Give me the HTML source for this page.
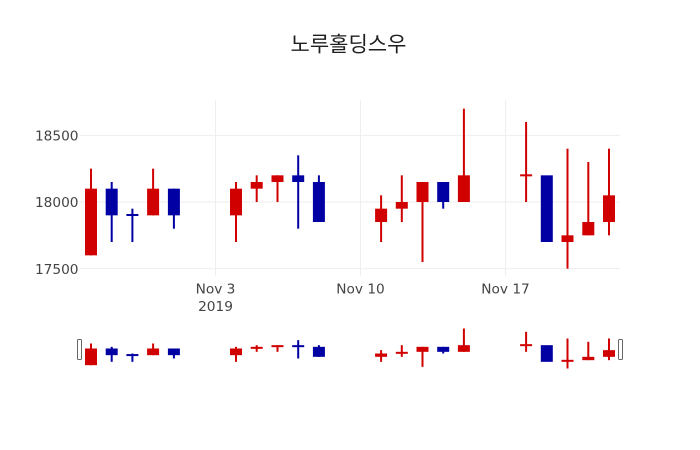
<!DOCTYPE html>
<html><head><meta charset="utf-8"><style>
html,body{margin:0;padding:0;background:#fff;}
svg{display:block;}
text{font-family:"DejaVu Sans","Liberation Sans",sans-serif;fill:#444;}
</style></head><body>
<svg width="700" height="450" viewBox="0 0 700 450" xmlns="http://www.w3.org/2000/svg">
<rect x="0" y="0" width="700" height="450" fill="#fff"/>
<!-- gridlines -->
<g stroke="#eeeeee" stroke-width="1">
<line x1="80" y1="135.33" x2="620" y2="135.33"/>
<line x1="80" y1="202" x2="620" y2="202"/>
<line x1="80" y1="268.67" x2="620" y2="268.67"/>
<line x1="215.5" y1="100" x2="215.5" y2="276"/>
<line x1="360.5" y1="100" x2="360.5" y2="276"/>
<line x1="505.5" y1="100" x2="505.5" y2="276"/>
</g>
<!-- title -->
<text x="348.5" y="51.3" text-anchor="middle" style="font-family:'Liberation Sans','Noto Sans CJK KR',sans-serif;font-size:21px;fill:#1e1e1e;">노루홀딩스우</text>
<!-- y tick labels -->
<g font-size="13.7" text-anchor="end">
<text x="78.5" y="140.5">18500</text>
<text x="78.5" y="207.2">18000</text>
<text x="78.5" y="273.9">17500</text>
</g>
<!-- x tick labels -->
<g font-size="13.7" text-anchor="middle">
<text x="215.5" y="293.3">Nov 3</text>
<text x="215.5" y="311">2019</text>
<text x="360.5" y="293.3">Nov 10</text>
<text x="505.5" y="293.3">Nov 17</text>
</g>
<!-- main candles -->
<g>
<g fill="#d10000">
<rect x="90" y="168.67" width="2" height="86.67"/><rect x="85" y="188.67" width="12" height="66.67"/>
<rect x="152.1" y="168.67" width="2" height="46.67"/><rect x="147.1" y="188.67" width="12" height="26.67"/>
<rect x="235" y="182" width="2" height="60"/><rect x="230" y="188.67" width="12" height="26.67"/>
<rect x="255.7" y="175.33" width="2" height="26.67"/><rect x="250.7" y="182" width="12" height="6.67"/>
<rect x="276.5" y="175.33" width="2" height="26.67"/><rect x="271.5" y="175.33" width="12" height="6.67"/>
<rect x="380.1" y="195.33" width="2" height="46.67"/><rect x="375.1" y="208.67" width="12" height="13.33"/>
<rect x="400.8" y="175.33" width="2" height="46.67"/><rect x="395.8" y="202" width="12" height="6.67"/>
<rect x="421.5" y="182" width="2" height="80"/><rect x="416.5" y="182" width="12" height="20"/>
<rect x="462.9" y="108.67" width="2" height="93.33"/><rect x="457.9" y="175.33" width="12" height="26.67"/>
<rect x="525.1" y="122" width="2" height="80"/><rect x="520.1" y="174.33" width="12" height="2"/>
<rect x="566.5" y="148.67" width="2" height="120"/><rect x="561.5" y="235.33" width="12" height="6.67"/>
<rect x="587.3" y="162" width="2" height="73.33"/><rect x="582.3" y="222" width="12" height="13.33"/>
<rect x="608" y="148.67" width="2" height="86.67"/><rect x="603" y="195.33" width="12" height="26.67"/>
</g>
<g fill="#0000a3">
<rect x="110.7" y="182" width="2" height="60"/><rect x="105.7" y="188.67" width="12" height="26.67"/>
<rect x="131.4" y="208.67" width="2" height="33.33"/><rect x="126.4" y="214" width="12" height="2"/>
<rect x="172.9" y="188.67" width="2" height="40"/><rect x="167.9" y="188.67" width="12" height="26.67"/>
<rect x="297.2" y="155.33" width="2" height="73.33"/><rect x="292.2" y="175.33" width="12" height="6.67"/>
<rect x="317.9" y="175.33" width="2" height="46.67"/><rect x="312.9" y="182" width="12" height="40"/>
<rect x="442.2" y="182" width="2" height="26.67"/><rect x="437.2" y="182" width="12" height="20"/>
<rect x="540.8" y="175.33" width="12" height="66.67"/>
</g>
</g>
<!-- range slider candles -->
<g transform="translate(0,301.33) scale(1,0.25)">
<g fill="#d10000">
<rect x="90" y="168.67" width="2" height="86.67"/><rect x="85" y="188.67" width="12" height="66.67"/>
<rect x="152.1" y="168.67" width="2" height="46.67"/><rect x="147.1" y="188.67" width="12" height="26.67"/>
<rect x="235" y="182" width="2" height="60"/><rect x="230" y="188.67" width="12" height="26.67"/>
<rect x="255.7" y="175.33" width="2" height="26.67"/><rect x="250.7" y="182" width="12" height="8"/>
<rect x="276.5" y="175.33" width="2" height="26.67"/><rect x="271.5" y="175.33" width="12" height="8"/>
<rect x="380.1" y="195.33" width="2" height="46.67"/><rect x="375.1" y="208.67" width="12" height="13.33"/>
<rect x="400.8" y="175.33" width="2" height="46.67"/><rect x="395.8" y="202" width="12" height="8"/>
<rect x="421.5" y="182" width="2" height="80"/><rect x="416.5" y="182" width="12" height="20"/>
<rect x="462.9" y="108.67" width="2" height="93.33"/><rect x="457.9" y="175.33" width="12" height="26.67"/>
<rect x="525.1" y="122" width="2" height="80"/><rect x="520.1" y="171.33" width="12" height="8"/>
<rect x="566.5" y="148.67" width="2" height="120"/><rect x="561.5" y="234" width="12" height="8"/>
<rect x="587.3" y="162" width="2" height="73.33"/><rect x="582.3" y="222" width="12" height="13.33"/>
<rect x="608" y="148.67" width="2" height="86.67"/><rect x="603" y="195.33" width="12" height="26.67"/>
</g>
<g fill="#0000a3">
<rect x="110.7" y="182" width="2" height="60"/><rect x="105.7" y="188.67" width="12" height="26.67"/>
<rect x="131.4" y="208.67" width="2" height="33.33"/><rect x="126.4" y="211" width="12" height="8"/>
<rect x="172.9" y="188.67" width="2" height="40"/><rect x="167.9" y="188.67" width="12" height="26.67"/>
<rect x="297.2" y="155.33" width="2" height="73.33"/><rect x="292.2" y="175.33" width="12" height="8"/>
<rect x="317.9" y="175.33" width="2" height="46.67"/><rect x="312.9" y="182" width="12" height="40"/>
<rect x="442.2" y="182" width="2" height="26.67"/><rect x="437.2" y="182" width="12" height="20"/>
<rect x="540.8" y="175.33" width="12" height="66.67"/>
</g>
</g>
<!-- range slider handles -->
<rect x="77.5" y="339.5" width="4" height="20" rx="1" ry="1" fill="#fff" stroke="#666" stroke-width="1"/>
<rect x="618.5" y="339.5" width="4" height="20" rx="1" ry="1" fill="#fff" stroke="#666" stroke-width="1"/>
</svg>
</body></html>
